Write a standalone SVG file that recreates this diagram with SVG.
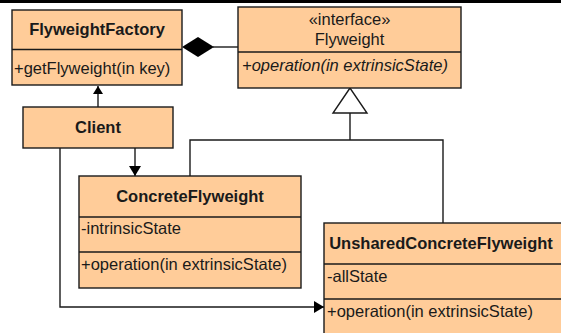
<svg xmlns="http://www.w3.org/2000/svg" width="561" height="333" viewBox="0 0 561 333">
<style>
.box{fill:#FFCC99;stroke:#1a1a1a;stroke-width:1.4}
.div{stroke:#1a1a1a;stroke-width:1.4}
.t{font-family:"Liberation Sans",Arial,sans-serif;font-size:16.5px;fill:#1a1a1a}
.b{font-weight:bold;text-anchor:middle}
.c{text-anchor:middle}
.conn{fill:none;stroke:#1a1a1a;stroke-width:1.4}
</style>
<defs>
<marker id="arr" viewBox="0 0 10 12" refX="10" refY="6" markerWidth="10" markerHeight="12" markerUnits="userSpaceOnUse" orient="auto"><path d="M0,0 L10,6 L0,12 Z" fill="#000"/></marker>
<marker id="arrs" viewBox="0 0 8 10" refX="8" refY="5" markerWidth="8" markerHeight="10" markerUnits="userSpaceOnUse" orient="auto"><path d="M0,0 L8,5 L0,10 Z" fill="#000"/></marker>
</defs>
<rect x="0" y="0" width="561" height="333" fill="#fff"/>
<rect x="0" y="0" width="561" height="3" fill="#000"/>
<g id="connectors">
<path class="conn" d="M213,47 H238"/>
<path d="M182,47 L198,37 L214,47 L198,57 Z" fill="#000"/>
<path class="conn" d="M98,107 V86" marker-end="url(#arrs)"/>
<path class="conn" d="M135,148 V176" marker-end="url(#arr)"/>
<path class="conn" d="M60,148 V307 H324" marker-end="url(#arr)"/>
<path class="conn" d="M350,113 V140 M190,176 V140 H443 V223"/>
<path d="M350,88 L333,113 L367,113 Z" fill="#fff" stroke="#1a1a1a" stroke-width="1.4"/>
</g>
<g id="FlyweightFactory">
<rect class="box" x="12" y="10" width="170" height="75"/>
<line class="div" x1="12" y1="49.5" x2="182" y2="49.5"/>
<text class="t b" x="97" y="35">FlyweightFactory</text>
<text class="t" x="14" y="74">+getFlyweight(in key)</text>
</g>
<g id="Flyweight">
<rect class="box" x="238" y="7" width="223" height="81"/>
<line class="div" x1="238" y1="52" x2="461" y2="52"/>
<text class="t c" x="349.5" y="25">«interface»</text>
<text class="t c" x="349.5" y="45">Flyweight</text>
<text class="t" x="242" y="71" font-style="italic">+operation(in extrinsicState)</text>
</g>
<g id="Client">
<rect class="box" x="23" y="107" width="150" height="41"/>
<text class="t b" x="98" y="133">Client</text>
</g>
<g id="ConcreteFlyweight">
<rect class="box" x="79" y="176" width="222" height="112"/>
<line class="div" x1="79" y1="217" x2="301" y2="217"/>
<line class="div" x1="79" y1="252" x2="301" y2="252"/>
<text class="t b" x="190" y="202">ConcreteFlyweight</text>
<text class="t" x="81" y="234">-intrinsicState</text>
<text class="t" x="81" y="270">+operation(in extrinsicState)</text>
</g>
<g id="UnsharedConcreteFlyweight">
<rect class="box" x="324" y="223" width="250" height="120"/>
<line class="div" x1="324" y1="264" x2="574" y2="264"/>
<line class="div" x1="324" y1="299" x2="574" y2="299"/>
<text class="t b" x="441" y="249">UnsharedConcreteFlyweight</text>
<text class="t" x="327" y="282">-allState</text>
<text class="t" x="327" y="317">+operation(in extrinsicState)</text>
</g>
</svg>
